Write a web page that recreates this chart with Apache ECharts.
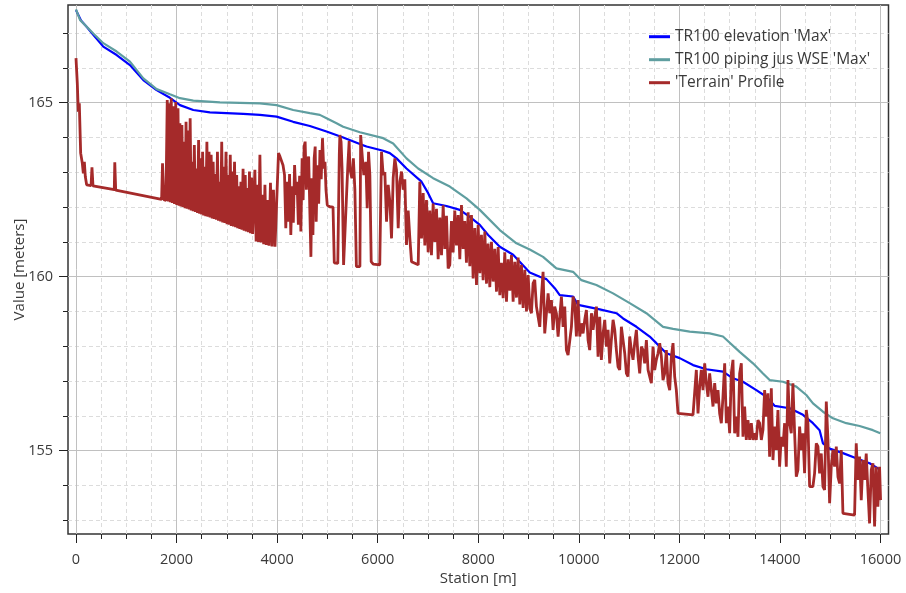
<!DOCTYPE html>
<html><head><meta charset="utf-8">
<script src="https://cdn.jsdelivr.net/npm/echarts@6/dist/echarts.min.js"></script>
<style>html,body{margin:0;padding:0;background:#fff}#c{width:906px;height:593px}</style>
</head><body><div id="c"></div>
<script>
// ---------- data ----------
const seriesNames = ["TR100 elevation 'Max'", "TR100 piping jus WSE 'Max'", "'Terrain' Profile"];
const xAxisName = 'Station [m]';
const yAxisName = 'Value [meters]';
const xTickValues = [0, 2000, 4000, 6000, 8000, 10000, 12000, 14000, 16000];
const yTickValues = [155, 160, 165];

const elevationMax = [[0,167.66],[100,167.36],[200,167.2],[344,166.95],[543,166.61],[810,166.37],[1074,166.08],[1340,165.65],[1604,165.36],[1870,165.14],[2069,164.93],[2334,164.79],[2665,164.72],[3328,164.68],[3660,164.65],[3992,164.6],[4322,164.45],[4654,164.33],[4986,164.17],[5317,164.0],[5649,163.81],[5782,163.74],[6113,163.62],[6245,163.55],[6379,163.40],[6577,163.11],[6876,162.73],[7008,162.40],[7107,162.11],[7373,162.03],[7638,161.92],[7837,161.72],[8036,161.49],[8202,161.20],[8434,160.86],[8699,160.63],[9030,160.12],[9229,160.0],[9362,159.93],[9527,159.67],[9627,159.47],[9892,159.43],[9992,159.19],[10158,159.14],[10423,159.06],[10755,158.95],[10887,158.80],[11153,158.56],[11417,158.28],[11550,158.09],[11749,157.80],[12014,157.66],[12279,157.46],[12545,157.34],[12875,157.27],[13074,157.08],[13273,156.98],[13539,156.74],[13738,156.55],[13903,156.29],[14202,156.22],[14467,156.03],[14666,155.79],[14798,155.59],[14865,155.21],[14997,155.06],[15262,154.93],[15527,154.78],[15793,154.64],[15958,154.49],[16000,154.45]];

const wseMax = [[0,167.68],[80,167.38],[344,166.99],[543,166.71],[810,166.47],[1074,166.18],[1340,165.70],[1604,165.39],[1870,165.24],[2069,165.13],[2334,165.06],[2864,165.01],[3660,164.98],[3992,164.93],[4322,164.79],[4654,164.70],[4853,164.65],[4986,164.55],[5185,164.41],[5317,164.31],[5649,164.15],[6113,163.98],[6312,163.83],[6577,163.40],[6809,163.11],[7107,162.83],[7439,162.59],[7771,162.25],[8036,161.92],[8434,161.34],[8765,160.96],[9030,160.78],[9295,160.57],[9560,160.24],[9892,160.14],[10058,159.90],[10356,159.76],[10688,159.52],[11019,159.24],[11351,158.95],[11683,158.56],[11882,158.50],[12213,158.42],[12611,158.37],[12875,158.28],[12988,158.13],[13207,157.84],[13472,157.51],[13671,157.22],[13804,157.03],[14069,156.98],[14334,156.84],[14533,156.60],[14666,156.36],[14865,156.12],[15063,155.93],[15329,155.79],[15594,155.71],[15859,155.59],[16005,155.50]];

const terrainProfile = [
[0,166.28],[26,165.56],[46,164.74],[66,164.98],[93,163.55],[126,163.26],[146,162.97],[166,163.30],[186,162.87],[212,162.64],[300,162.62],[318,163.14],[338,162.61],[762,162.50],[772,163.29],[790,162.49],[1704,162.22],[1722,163.26],[1748,162.21],[1790,162.19],
[1816,165.08],[1836,162.16],[1856,164.98],[1876,162.14],[1896,165.13],[1916,162.12],[1940,164.90],[1960,162.09],[1985,165.02],[2005,162.06],[2030,164.84],[2050,162.04],[2068,164.41],[2088,162.02],[2108,164.36],[2128,162.00],[2150,163.88],[2170,161.97],[2190,164.45],[2210,161.95],[2232,164.20],[2252,161.93],[2272,164.55],[2292,161.90],[2312,163.30],[2332,161.88],[2355,163.78],[2375,161.86],[2398,163.11],[2418,161.83],[2440,163.93],[2460,161.81],[2480,163.40],[2500,161.79],[2520,163.59],[2540,161.76],[2562,163.16],[2582,161.74],[2605,163.88],[2625,161.72],[2648,163.59],[2668,161.70],[2690,163.50],[2710,161.67],
[2730,163.30],[2750,161.66],[2772,162.95],[2792,161.64],[2815,163.59],[2835,161.61],[2858,162.73],[2878,161.59],[2900,163.88],[2920,161.56],[2942,163.16],[2962,161.54],[2985,163.59],[3005,161.51],[3028,162.92],[3048,161.49],[3070,163.50],[3090,161.46],[3112,163.02],[3132,161.44],[3155,163.30],[3175,161.42],[3198,162.92],[3218,161.39],[3240,162.60],[3260,161.37],[3282,162.73],[3302,161.35],[3325,163.10],[3345,161.32],[3368,162.92],[3388,161.30],[3410,162.55],[3430,161.28],[3452,163.02],[3472,161.25],[3495,162.85],[3515,161.23],[3540,161.21],[3560,163.07],[3585,161.01],[3610,162.64],[3632,161.00],[3660,163.50],[3685,160.98],[3710,162.35],[3735,160.93],[3760,162.64],[3785,160.91],[3815,162.20],[3840,160.89],[3870,162.70],[3900,160.87],[3930,162.50],[3960,160.86],[3990,160.88],
[4030,163.55],[4060,163.45],[4090,163.40],[4120,163.20],[4150,162.92],[4175,161.39],[4200,162.73],[4225,161.58],[4250,162.95],[4275,161.20],[4300,162.60],[4325,161.55],[4350,163.21],[4375,162.35],[4400,162.73],[4425,161.49],[4450,162.90],[4475,161.30],[4500,163.40],[4520,162.20],[4540,163.74],
[4560,163.88],[4585,162.50],[4605,163.30],[4630,163.45],[4655,161.80],[4675,160.57],[4695,162.83],[4715,161.20],[4740,163.40],[4760,163.74],[4780,161.58],[4805,163.20],[4830,162.10],[4855,163.64],[4880,162.80],[4905,163.98],[4930,163.11],[4955,163.30],[4975,162.50],[5000,162.06],[5050,162.01],[5115,162.00],
[5140,160.40],[5210,160.38],[5240,163.50],[5251,164.07],[5275,163.88],[5295,163.10],[5325,160.34],[5350,160.34],[5380,162.20],[5410,163.20],[5436,163.90],[5450,163.11],[5490,162.83],[5520,163.40],[5550,162.50],[5580,160.29],[5650,160.29],[5665,164.07],[5700,163.40],[5728,162.92],[5768,163.30],[5795,161.97],[5822,163.59],[5848,162.92],[5875,160.43],[5915,160.36],[6045,160.34],[6080,163.59],[6113,162.92],[6146,163.00],[6180,161.58],[6213,162.64],[6246,162.16],[6279,161.10],[6312,162.83],[6345,163.40],[6378,163.07],[6412,161.39],[6445,162.73],[6478,163.02],[6511,162.50],[6544,162.80],[6577,160.91],[6611,161.90],[6644,161.10],[6677,160.43],[6810,160.34],
[6842,162.73],[6876,161.10],[6909,162.40],[6942,160.90],[6975,162.20],[7008,160.70],[7041,161.90],[7074,160.62],[7107,162.10],[7141,161.00],[7174,161.95],[7207,160.50],[7240,161.70],[7274,160.62],[7307,162.05],[7340,160.80],[7373,161.75],[7406,160.24],[7439,160.34],[7472,161.60],[7505,160.70],[7538,161.90],[7572,160.90],[7605,161.77],[7638,160.50],[7671,162.06],[7704,160.80],[7737,161.60],[7770,160.40],[7804,161.85],[7837,160.30],[7870,161.77],[7903,159.95],[7936,161.40],[7970,159.76],[8003,161.49],[8036,160.10],[8069,161.20],[8102,159.90],[8136,161.30],[8169,159.80],[8202,160.95],[8235,159.70],[8268,161.00],[8301,159.86],[8334,160.80],[8368,159.57],[8401,160.85],[8434,159.47],[8467,160.40],[8500,159.38],[8533,160.70],[8567,159.28],[8600,160.50],[8633,159.60],[8666,160.62],[8699,159.28],[8733,160.43],[8766,159.40],[8799,160.55],[8832,159.20],[8865,160.34],[8898,159.10],[8932,160.20],[8965,159.00],[8998,160.05],[9031,159.10],
[9063,158.95],[9096,159.81],[9129,159.91],[9163,159.14],[9196,158.85],[9229,158.56],[9262,159.43],[9295,160.14],[9328,158.37],[9362,158.95],[9395,159.52],[9428,158.95],[9461,159.33],[9494,158.47],[9527,159.14],[9560,158.95],[9594,158.28],[9627,158.85],[9660,159.43],[9693,158.56],[9726,159.14],[9759,157.89],[9792,157.75],[9826,157.70],[9859,158.56],[9892,159.43],[9925,159.23],[9958,158.28],[9991,159.33],[10025,158.28],[10058,158.66],[10091,158.37],[10124,158.76],[10157,159.04],[10190,158.18],[10223,157.89],[10257,158.95],[10290,158.47],[10323,158.85],[10356,159.14],[10389,157.70],[10422,158.85],[10455,157.61],[10489,158.37],[10522,158.76],[10555,157.99],[10588,158.47],[10621,157.51],[10654,158.18],[10688,158.76],[10721,158.47],[10754,157.89],[10787,157.41],[10820,157.32],[10853,158.56],[10886,158.18],[10920,157.80],[10953,157.22],[10986,157.13],[11019,158.28],[11052,157.89],[11085,157.61],[11118,158.09],[11152,158.47],[11185,157.70],[11218,157.22],[11251,157.99],[11284,157.89],[11317,157.51],[11351,158.18],[11384,157.32],[11417,157.13],[11450,156.94],[11483,157.99],[11516,157.32],[11549,157.61],[11583,157.80],[11616,158.09],[11649,157.70],[11682,157.03],[11715,157.22],[11748,157.89],[11781,156.94],[11815,156.74],[11848,157.70],[11881,158.09],[11914,157.13],[11947,156.74],[11980,156.07],[12279,156.03],[12345,157.32],[12378,156.07],[12411,156.84],[12444,157.32],[12478,156.74],[12511,157.51],[12544,156.94],[12577,156.55],[12610,157.22],[12643,156.74],[12677,156.27],[12710,156.94],[12743,156.36],[12776,156.74],[12809,156.07],[12842,155.79],[12875,156.55],[12909,157.51],
[12942,155.79],[12975,156.27],[13008,155.50],[13041,157.22],[13074,157.61],[13107,155.50],[13141,155.98],[13174,155.40],[13207,157.22],[13240,157.51],[13273,155.40],[13306,156.27],[13339,155.31],[13373,155.88],[13406,155.31],[13439,155.79],[13472,155.31],[13505,155.50],[13538,155.31],[13571,155.88],[13605,155.79],[13638,155.31],[13671,155.60],[13704,156.74],[13737,155.98],[13770,156.65],[13803,154.83],[13837,156.79],[13870,154.73],[13903,155.69],[13936,155.02],[13969,156.17],[14002,154.54],[14035,155.40],[14069,155.12],[14102,155.79],[14135,154.54],[14168,157.03],[14201,155.79],[14234,155.50],[14267,156.94],[14301,155.50],[14334,154.25],[14367,154.45],[14400,155.69],[14433,155.02],[14466,155.50],[14499,154.35],[14533,156.17],[14566,155.79],[14599,153.97],[14665,153.97],[14698,154.35],[14732,155.21],[14765,155.12],[14798,154.35],[14831,154.92],[14864,153.97],[14897,153.87],[14931,156.41],[14964,155.31],[14997,153.49],[15030,154.54],[15063,155.02],[15096,154.54],[15130,155.12],[15163,154.25],[15196,154.06],[15229,155.02],[15262,153.20],[15494,153.15],[15527,155.21],[15560,154.16],[15594,154.83],[15627,153.58],[15660,154.73],[15693,154.16],[15726,154.92],[15759,153.87],[15792,152.91],[15826,154.45],[15859,154.64],[15892,152.82],[15925,154.54],[15958,153.39],[15991,154.54],[16011,153.58]
];

// ---------- chart ----------
const FONT = 'Open Sans';
const TXT = '#3a3a3a';
const X_MIN = -159, X_MAX = 16169;
const Y_MIN = 152.606, Y_MAX = 167.807;
const hidden = (gi) => ({gridIndex: gi, type: 'value', show: false, min: 0, max: 1});
const majorLine = {show: true, lineStyle: {color: '#c0c0c0', width: 1}};
const minorLine = {show: true, lineStyle: {color: '#dcdcdc', width: 1, type: [4, 3]}};

const chart = echarts.init(document.getElementById('c'), null, {renderer: 'canvas'});
chart.setOption({
  animation: false,
  backgroundColor: '#fff',
  textStyle: {fontFamily: FONT},
  grid: [
    {left: 68, right: 17.5, top: 5, bottom: 59, show: true, borderColor: '#333', borderWidth: 1.5, backgroundColor: 'transparent'},
    {left: 76, right: 25.5, top: 5, bottom: 59},
    {left: 76, right: 25.5, top: 5, bottom: 59},
    {left: 68, right: 17.5, top: 33.1, bottom: 72.7},
    {left: 68, right: 17.5, top: 102.7, bottom: 142.3}
  ],
  xAxis: [
    {gridIndex: 0, type: 'value', min: X_MIN, max: X_MAX,
     axisLine: {show: false, onZero: false}, axisTick: {show: false}, axisLabel: {show: false}, splitLine: {show: false},
     name: xAxisName, nameLocation: 'middle', nameGap: 37,
     nameTextStyle: {fontFamily: FONT, fontSize: 15, color: TXT}},
    {gridIndex: 1, type: 'value', min: 0, max: 16000, interval: 500,
     axisLine: {show: false, onZero: false}, axisTick: {show: true, length: 5, lineStyle: {color: '#222'}},
     axisLabel: {show: false}, splitLine: minorLine},
    {gridIndex: 2, type: 'value', min: 0, max: 16000, interval: 2000,
     axisLine: {show: false, onZero: false}, axisTick: {show: true, length: 9, lineStyle: {color: '#222'}},
     axisLabel: {show: true, margin: 18, fontFamily: FONT, fontSize: 14.5, color: TXT,
       formatter: (v) => xTickValues.includes(v) ? String(v) : ''},
     splitLine: majorLine},
    hidden(3), hidden(4)
  ],
  yAxis: [
    {gridIndex: 0, type: 'value', min: Y_MIN, max: Y_MAX,
     axisLine: {show: false, onZero: false}, axisTick: {show: false}, axisLabel: {show: false}, splitLine: {show: false},
     name: yAxisName, nameLocation: 'middle', nameGap: 41,
     nameTextStyle: {fontFamily: FONT, fontSize: 15, color: TXT}},
    hidden(1), hidden(2),
    {gridIndex: 3, type: 'value', min: 153, max: 167, interval: 1,
     axisLine: {show: false, onZero: false}, axisTick: {show: true, length: 5, lineStyle: {color: '#222'}},
     axisLabel: {show: false}, splitLine: minorLine},
    {gridIndex: 4, type: 'value', min: 155, max: 165, interval: 5,
     axisLine: {show: false, onZero: false}, axisTick: {show: true, length: 9, lineStyle: {color: '#222'}},
     axisLabel: {show: true, margin: 15, fontFamily: FONT, fontSize: 14.5, color: TXT,
       formatter: (v) => yTickValues.includes(v) ? String(v) : ''},
     splitLine: majorLine}
  ],
  legend: {
    orient: 'vertical', left: 644, top: 23.7,
    icon: 'rect', itemWidth: 21, itemHeight: 3, itemGap: 7,
    textStyle: {fontFamily: FONT, fontSize: 15.5, color: TXT},
    data: seriesNames
  },
  series: [
    {name: seriesNames[0], type: 'line', xAxisIndex: 0, yAxisIndex: 0, data: elevationMax,
     symbol: 'none', color: '#0000ff', lineStyle: {color: '#0000ff', width: 2.2}},
    {name: seriesNames[1], type: 'line', xAxisIndex: 0, yAxisIndex: 0, data: wseMax,
     symbol: 'none', color: '#5f9ea0', lineStyle: {color: '#5f9ea0', width: 2.2}},
    {name: seriesNames[2], type: 'line', xAxisIndex: 0, yAxisIndex: 0, data: terrainProfile,
     symbol: 'none', color: '#a52a2a', lineStyle: {color: '#a52a2a', width: 2.8}}
  ]
});
</script>
</body></html>
